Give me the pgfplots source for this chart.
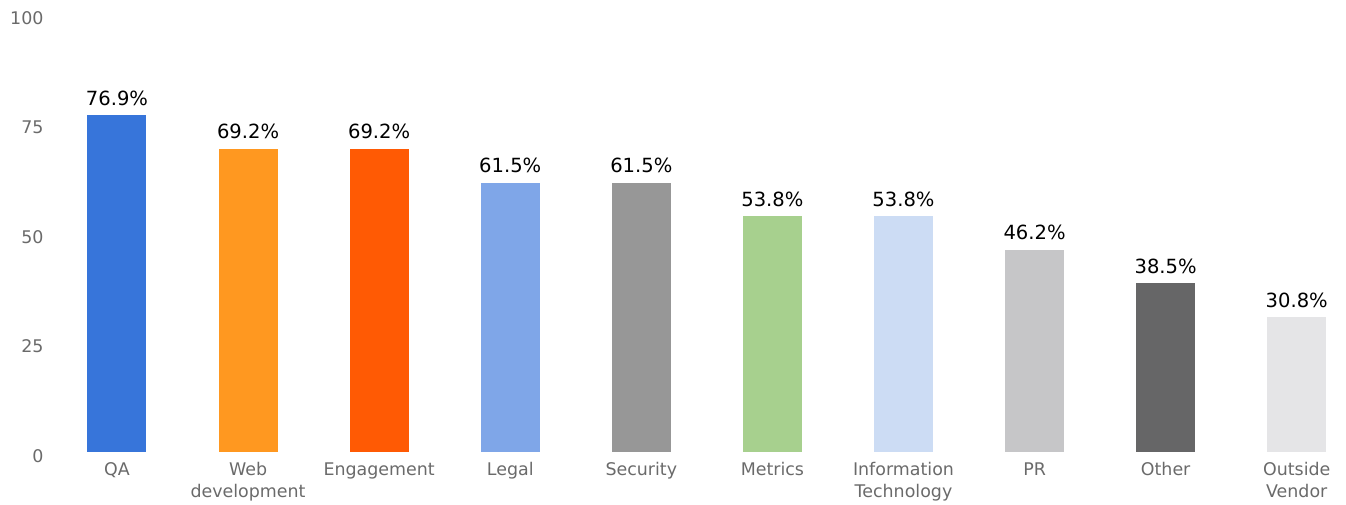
\documentclass[border=0pt]{standalone}
\usepackage{fontspec}
\setmainfont{DejaVu Sans}
\usepackage{pgfplots}
\pgfplotsset{compat=1.18}
\definecolor{cQA}{HTML}{3775DA}
\definecolor{cWeb}{HTML}{FF9820}
\definecolor{cEng}{HTML}{FF5A04}
\definecolor{cLeg}{HTML}{7FA6E8}
\definecolor{cSec}{HTML}{979797}
\definecolor{cMet}{HTML}{A7D08E}
\definecolor{cIT}{HTML}{CCDCF4}
\definecolor{cPR}{HTML}{C6C6C8}
\definecolor{cOth}{HTML}{666667}
\definecolor{cOut}{HTML}{E5E5E7}
\definecolor{tickgray}{HTML}{6A6A6A}
\begin{document}
\begin{tikzpicture}
\begin{axis}[
  scale only axis,
  width=1290bp, height=438bp,
  xmin=-0.511, xmax=9.33,
  ymin=0, ymax=100,
  axis line style={draw=none},
  major tick length=0pt,
  ytick={0,25,50,75,100},
  xtick={0,...,9},
  xticklabels={QA,Web\\development,Engagement,Legal,Security,Metrics,Information\\Technology,PR,Other,Outside\\Vendor},
  /pgf/number format/assume math mode=true,
  ticklabel style={font=\fontsize{17.5}{22}\selectfont, text=tickgray},
  xticklabel style={align=center, yshift=-7bp},
  yticklabel style={anchor=east, xshift=-3bp, yshift=-4bp},
  ybar, bar shift=0pt, bar width=59bp,
  nodes near coords={\pgfmathprintnumber[fixed,precision=1,fixed zerofill]{\pgfplotspointmeta}\%},
  nodes near coords style={anchor=base, yshift=10bp, font=\fontsize{19.6}{22}\selectfont, text=black},
  clip=false,
]
\addplot[fill=cQA, draw=none] coordinates {(0,76.9)};
\addplot[fill=cWeb, draw=none] coordinates {(1,69.2)};
\addplot[fill=cEng, draw=none] coordinates {(2,69.2)};
\addplot[fill=cLeg, draw=none] coordinates {(3,61.5)};
\addplot[fill=cSec, draw=none] coordinates {(4,61.5)};
\addplot[fill=cMet, draw=none] coordinates {(5,53.8)};
\addplot[fill=cIT, draw=none] coordinates {(6,53.8)};
\addplot[fill=cPR, draw=none] coordinates {(7,46.2)};
\addplot[fill=cOth, draw=none] coordinates {(8,38.5)};
\addplot[fill=cOut, draw=none] coordinates {(9,30.8)};
\end{axis}
\path ([shift={(-50bp,-53bp)}]current axis.south west) rectangle ([shift={(6bp,14bp)}]current axis.north east);
\end{tikzpicture}
\end{document}
